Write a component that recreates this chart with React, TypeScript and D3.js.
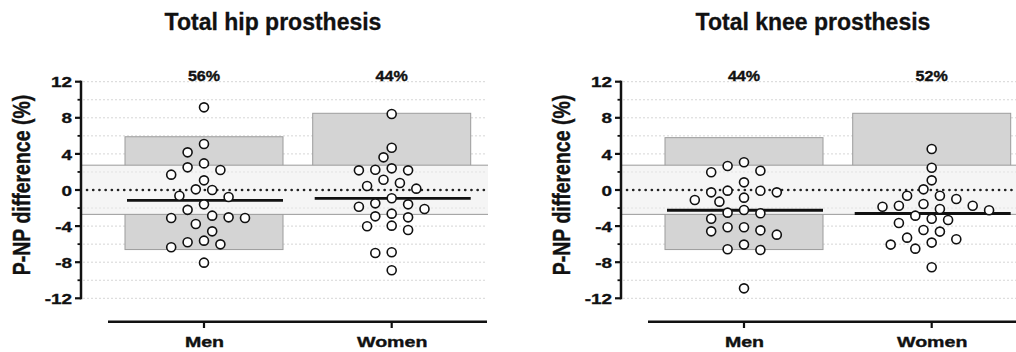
import * as d3 from "d3";

const groups = ["Men", "Women"];
const yTicks = [-12, -8, -4, 0, 4, 8, 12];
const bandLimits = [-2.7, 2.75];

const hipMen = [9.16, 5.09, 4.17, 2.95, 2.51, 1.7, 2.21, 1.07, 0.0, 0.07, -0.77, -0.63, -1.59, -2.2, -3.03, -3.1, -2.84, -3.1, -3.77, -4.58, -5.61, -6.02, -6.35, -5.79, -8.05];
const hipWomen = [8.42, 4.68, 3.62, 2.18, 2.4, 2.18, 2.25, 1.14, 0.44, 0.78, 0.15, -0.92, -1.59, -1.48, -2.1, -1.85, -2.62, -2.92, -3.03, -3.95, -4.43, -4.02, -6.9, -6.98, -8.9];
const kneeMen = [3.07, 2.66, 2.14, 1.96, 0.85, -0.07, -0.26, -0.26, -0.09, -0.85, -1.29, -1.11, -2.21, -2.58, -3.18, -2.51, -4.13, -4.13, -4.47, -4.95, -4.58, -6.05, -6.57, -6.64, -10.9];
const kneeWomen = [4.54, 2.47, 1.07, 0.07, -0.63, -1.0, -0.63, -1.74, -1.85, -1.74, -1.55, -2.25, -2.1, -2.84, -3.18, -3.65, -3.32, -4.61, -4.43, -5.28, -5.46, -6.05, -6.5, -5.83, -8.56];

const hipShares = ["56%", "44%"];
const kneeShares = ["44%", "52%"];
const hipBarHigh = [5.9, 8.5];
const hipBarLow = [-6.6, 0];
const kneeBarHigh = [5.8, 8.5];
const kneeBarLow = [-6.6, 0];

const FONT = "'Liberation Sans', Arial, sans-serif";

const y = d3.scaleLinear().domain([-12, 12]).range([298.3, 81.7]);
const axisX = 81;
const rightEnd = 487;
const x = d3.scalePoint<string>().domain(groups).range([204, 391.7]);

// greedy beeswarm: each point takes the nearest free column slot
function swarm(values: number[], step = 8.2, diam = 12) {
  const order = d3.range(values.length).sort((a, b) => values[b] - values[a]);
  const placed: { dx: number; py: number }[] = [];
  for (const i of order) {
    const py = y(values[i]);
    for (let k = 0; k < 30; k++) {
      const slot = k === 0 ? 0 : (k % 2 ? -1 : 1) * Math.ceil(k / 2);
      const dx = slot * step;
      const hit = placed.some((p) => Math.hypot(p.dx - dx, p.py - py) < diam);
      if (!hit) {
        placed.push({ dx, py });
        break;
      }
    }
  }
  return placed;
}

// heavy text drawn a little wider than the font, like the source figure
const WideText = ({ x, y, sx, size, anchor = "middle", children }: any) => (
  <text
    transform={`translate(${x},${y}) scale(${sx},1)`}
    textAnchor={anchor}
    fontSize={size}
    fontWeight="bold"
    fill="#111"
    stroke="#111"
    strokeWidth={0.35}
  >
    {children}
  </text>
);

type PanelProps = {
  x0: number;
  title: string;
  series: number[][];
  shares: string[];
  low: number[];
  high: number[];
};

const Panel = ({ x0, title, series, shares, low, high }: PanelProps) => {
  const grid = d3.range(-12, 13, 2);
  const minor = d3.range(-10, 12, 4);
  return (
    <g transform={`translate(${x0},0)`} fontFamily={FONT}>
      <text x={273} y={29.5} textAnchor="middle" fontSize={23} fontWeight="bold" fill="#111" stroke="#111" strokeWidth={0.3}>
        {title}
      </text>
      {grid.map((v) => (
        <line key={v} x1={axisX + 2} x2={rightEnd} y1={y(v)} y2={y(v)} stroke="#d6d6d6" strokeWidth={1} strokeDasharray="2 2" />
      ))}
      {groups.map((g, i) => (
        <rect key={g} x={x(g)! - 79} width={158} y={y(high[i])} height={y(low[i]) - y(high[i])} fill="#d4d4d4" stroke="#9c9c9c" strokeWidth={1} />
      ))}
      <rect x={axisX + 1} width={rightEnd - axisX} y={y(bandLimits[1])} height={y(bandLimits[0]) - y(bandLimits[1])} fill="#f5f5f5" />
      {bandLimits.map((b) => (
        <line key={b} x1={axisX + 1} x2={rightEnd + 1} y1={y(b)} y2={y(b)} stroke="#9a9a9a" strokeWidth={1} />
      ))}
      {[-2, 2].map((v) => (
        <line key={v} x1={axisX + 2} x2={rightEnd} y1={y(v)} y2={y(v)} stroke="#e2e2e2" strokeWidth={1} strokeDasharray="2 2" />
      ))}
      <line x1={axisX + 6} x2={rightEnd} y1={y(0)} y2={y(0)} stroke="#222" strokeWidth={2.6} strokeLinecap="round" strokeDasharray="0.1 6.1" />
      {groups.map((g, i) => {
        const m = d3.mean(series[i])!;
        return <line key={g} x1={x(g)! - 77} x2={x(g)! + 79} y1={y(m)} y2={y(m)} stroke="#111" strokeWidth={2.8} />;
      })}
      {groups.map((g, i) =>
        swarm(series[i]).map((p, j) => (
          <circle key={g + j} cx={x(g)! + p.dx} cy={p.py} r={4.5} fill="#fff" stroke="#111" strokeWidth={1.6} />
        ))
      )}
      {groups.map((g, i) => (
        <WideText key={g} x={x(g)} y={80.5} sx={1.15} size={14}>
          {shares[i]}
        </WideText>
      ))}
      <line x1={axisX} x2={axisX} y1={y(12) - 1} y2={y(-12) + 1} stroke="#111" strokeWidth={2.5} />
      {yTicks.map((t) => (
        <g key={t}>
          <line x1={axisX - 6} x2={axisX} y1={y(t)} y2={y(t)} stroke="#111" strokeWidth={2.2} />
          <WideText x={axisX - 9} y={y(t) + 5.6} sx={1.22} size={15.5} anchor="end">
            {t}
          </WideText>
        </g>
      ))}
      {minor.map((t) => (
        <line key={t} x1={axisX - 3.5} x2={axisX} y1={y(t)} y2={y(t)} stroke="#111" strokeWidth={1.8} />
      ))}
      <text
        transform={`translate(30,${y(0) - 5}) rotate(-90) scale(1,1.2)`}
        textAnchor="middle"
        fontSize={19.5}
        fontWeight="bold"
        fill="#111"
        stroke="#111"
        strokeWidth={0.35}
      >
        P-NP difference (%)
      </text>
      <line x1={axisX + 27} x2={rightEnd} y1={321.7} y2={321.7} stroke="#111" strokeWidth={2.5} />
      {groups.map((g) => (
        <g key={g}>
          <line x1={x(g)} x2={x(g)} y1={321.7} y2={328} stroke="#111" strokeWidth={2.2} />
          <WideText x={x(g)! + 0.5} y={346.7} sx={1.4} size={14}>
            {g}
          </WideText>
        </g>
      ))}
    </g>
  );
};

export default function App() {
  return (
    <svg width={1016} height={352} style={{ position: "absolute", left: 0, top: 0, background: "#fff" }}>
      <Panel x0={0} title="Total hip prosthesis" series={[hipMen, hipWomen]} shares={hipShares} low={hipBarLow} high={hipBarHigh} />
      <Panel x0={540} title="Total knee prosthesis" series={[kneeMen, kneeWomen]} shares={kneeShares} low={kneeBarLow} high={kneeBarHigh} />
    </svg>
  );
}
